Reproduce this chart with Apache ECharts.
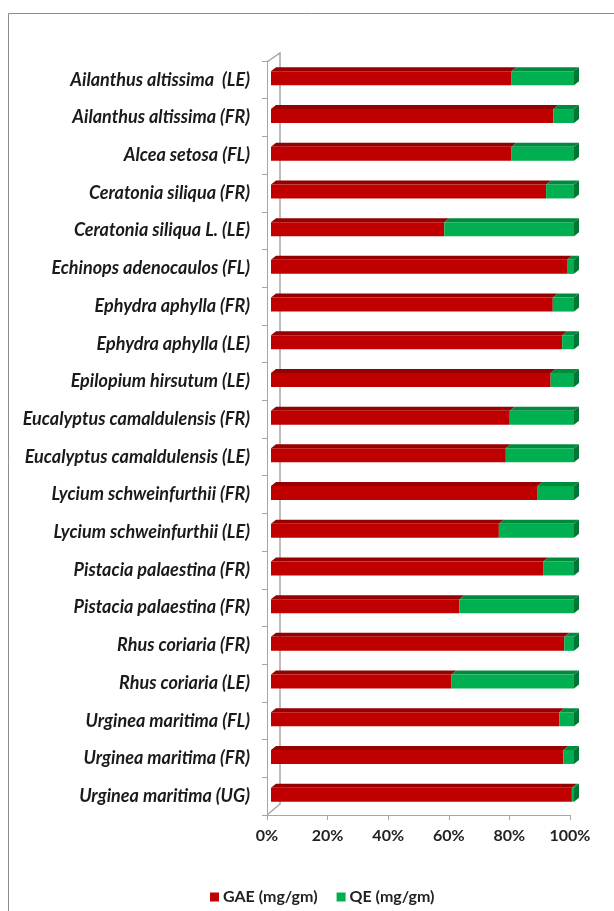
<!DOCTYPE html>
<html>
<head>
<meta charset="utf-8">
<script src="https://cdn.jsdelivr.net/npm/echarts@6/dist/echarts.min.js"></script>
<style>
  html, body { margin: 0; padding: 0; background: #fff; }
  #main { width: 614px; height: 911px; }
</style>
</head>
<body>
<div id="main"></div>
<script>
// categories, top to bottom
var categories = [
  'Ailanthus altissima  (LE)', 'Ailanthus altissima (FR)', 'Alcea setosa (FL)',
  'Ceratonia siliqua (FR)', 'Ceratonia siliqua L. (LE)', 'Echinops adenocaulos (FL)',
  'Ephydra aphylla (FR)', 'Ephydra aphylla (LE)', 'Epilopium hirsutum (LE)',
  'Eucalyptus camaldulensis (FR)', 'Eucalyptus camaldulensis (LE)', 'Lycium schweinfurthii (FR)',
  'Lycium schweinfurthii (LE)', 'Pistacia palaestina (FR)', 'Pistacia palaestina (FR)',
  'Rhus coriaria (FR)', 'Rhus coriaria (LE)', 'Urginea maritima (FL)',
  'Urginea maritima (FR)', 'Urginea maritima (UG)'
];
// share of each bar in percent (100% stacked)
var gaeShare = [79.4, 93.2, 79.4, 90.8, 57.2, 97.7, 93.0, 96.1, 92.3, 78.8,
                77.5, 88.0, 75.2, 89.8, 62.2, 96.8, 59.6, 95.2, 96.5, 99.3];
var qeShare  = [20.6, 6.8, 20.6, 9.2, 42.8, 2.3, 7.0, 3.9, 7.7, 21.2,
                22.5, 12.0, 24.8, 10.2, 37.8, 3.2, 40.4, 4.8, 3.5, 0.7];
var xTicks = [0, 20, 40, 60, 80, 100];

var chart = echarts.init(document.getElementById('main'));

var FONT = 'Lato';
var GRID_LEFT = 267, GRID_TOP = 61, GRID_BOTTOM = 96, GRID_RIGHT = 44;
var DX = 5, DY = 4;        // depth of bar top / side face
var AXIS_GRAY = '#a6a6a6';

var colors = {
  gae: { front: '#c00000', top: '#960000', side: '#7e0000' },
  qe:  { front: '#00b050', top: '#008a3e', side: '#007534' }
};

function buildData(base, vals) {
  return vals.map(function (v, i) {
    var s = base ? base[i] : 0;
    return [s, s + v, i];
  });
}

function makeRender(c, isLast) {
  return function (params, api) {
    var idx = api.value(2);
    var s = api.coord([api.value(0), idx]);
    var e = api.coord([api.value(1), idx]);
    var h = 14;
    var x0 = s[0] + 4, x1 = e[0] + 4;
    var y0 = s[1] - 1.5 - h / 2;
    var kids = [
      { type: 'polygon', shape: { points: [[x0, y0], [x0 + DX, y0 - DY], [x1 + DX, y0 - DY], [x1, y0]] },
        style: { fill: c.top } },
      { type: 'rect', shape: { x: x0, y: y0, width: x1 - x0, height: h },
        style: { fill: c.front } }
    ];
    if (isLast) {
      kids.push({ type: 'polygon',
        shape: { points: [[x1, y0], [x1 + DX, y0 - DY], [x1 + DX, y0 + h - DY], [x1, y0 + h]] },
        style: { fill: c.side } });
    }
    return { type: 'group', children: kids };
  };
}

var option = {
  backgroundColor: '#fff',
  animation: false,
  grid: { left: GRID_LEFT, top: GRID_TOP, bottom: GRID_BOTTOM, right: GRID_RIGHT },
  legend: {
    top: 884,
    left: 205,
    icon: 'rect',
    itemWidth: 9,
    itemHeight: 9,
    itemGap: 19,
    textStyle: { fontFamily: FONT, fontWeight: 'bold', fontSize: 16, color: '#222', padding: [0, 0, 0, -1] },
    data: ['GAE (mg/gm)', 'QE (mg/gm)']
  },
  xAxis: {
    type: 'value',
    min: 0, max: 100, interval: 20,
    axisLine: { show: true, lineStyle: { color: AXIS_GRAY } },
    axisTick: { show: true, length: 5, lineStyle: { color: AXIS_GRAY } },
    splitLine: { show: false },
    axisLabel: {
      margin: 13,
      formatter: function (v) { return xTicks.indexOf(v) >= 0 ? v + '%' : ''; },
      fontFamily: FONT, fontWeight: 'bold', fontSize: 16, color: '#222'
    }
  },
  yAxis: {
    type: 'category',
    inverse: true,
    data: categories,
    axisLine: { show: true, lineStyle: { color: AXIS_GRAY } },
    axisTick: { show: true, length: 5, lineStyle: { color: AXIS_GRAY } },
    axisLabel: {
      margin: 17,
      fontFamily: FONT, fontWeight: 'bold', fontStyle: 'italic', fontSize: 18, color: '#1a1a1a'
    }
  },
  series: [
    {
      name: 'GAE (mg/gm)', type: 'custom',
      itemStyle: { color: colors.gae.front },
      encode: { x: [0, 1], y: 2 },
      renderItem: makeRender(colors.gae, false),
      data: buildData(null, gaeShare), z: 3
    },
    {
      name: 'QE (mg/gm)', type: 'custom',
      itemStyle: { color: colors.qe.front },
      encode: { x: [0, 1], y: 2 },
      renderItem: makeRender(colors.qe, true),
      data: buildData(gaeShare, qeShare), z: 3
    }
  ]
};

chart.setOption(option);

// 3d wall lines and outer frame
var wallX = GRID_LEFT + 13;
var topY = GRID_TOP + 1, botY = 911 - GRID_BOTTOM;
chart.setOption({
  graphic: [
    { type: 'rect', shape: { x: 8.5, y: 13.5, width: 700, height: 1000 },
      style: { fill: 'none', stroke: '#8c8c8c', lineWidth: 1 }, silent: true },
    { type: 'polyline', shape: { points: [[GRID_LEFT, topY], [wallX, topY - 9], [wallX, botY - 11], [GRID_LEFT, botY]] },
      style: { fill: 'none', stroke: AXIS_GRAY, lineWidth: 1.5 }, z: 1, silent: true }
  ]
});
</script>
</body>
</html>
